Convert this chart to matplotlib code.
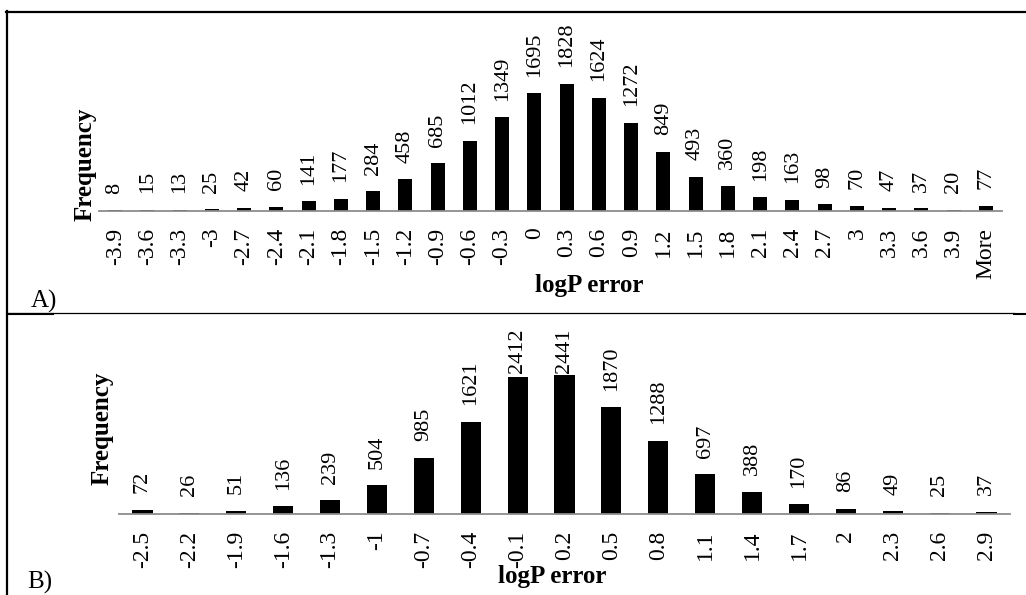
import matplotlib.pyplot as plt
from matplotlib.lines import Line2D

plt.rcParams['font.family'] = ['Liberation Serif', 'DejaVu Serif']

# panel A data
labels_a = ['-3.9', '-3.6', '-3.3', '-3', '-2.7', '-2.4', '-2.1', '-1.8', '-1.5', '-1.2',
            '-0.9', '-0.6', '-0.3', '0', '0.3', '0.6', '0.9', '1.2', '1.5', '1.8',
            '2.1', '2.4', '2.7', '3', '3.3', '3.6', '3.9', 'More']
freq_a = [8, 15, 13, 25, 42, 60, 141, 177, 284, 458, 685, 1012, 1349, 1695, 1828, 1624,
          1272, 849, 493, 360, 198, 163, 98, 70, 47, 37, 20, 77]

# panel B data
labels_b = ['-2.5', '-2.2', '-1.9', '-1.6', '-1.3', '-1', '-0.7', '-0.4', '-0.1', '0.2',
            '0.5', '0.8', '1.1', '1.4', '1.7', '2', '2.3', '2.6', '2.9']
freq_b = [72, 26, 51, 136, 239, 504, 985, 1621, 2412, 2441, 1870, 1288, 697, 388, 170,
          86, 49, 25, 37]

W, H = 1026, 595
fig = plt.figure(figsize=(W / 100, H / 100), dpi=100)


def px_rect(x0, y_top, x1, y_bot):
    # pixel box (from top-left) -> figure fraction rect
    return [x0 / W, 1 - y_bot / H, (x1 - x0) / W, (y_bot - y_top) / H]


def fx(x):
    return x / W


def fy(y):
    return 1 - y / H


def draw_panel(rect, labels, freq, ymax, width, label_cap):
    ax = fig.add_axes(rect)
    x = list(range(len(freq)))
    ax.bar(x, freq, width=width, color='black')
    for i, v in enumerate(freq):
        # labels that would leave the plot area get pushed down
        ax.annotate(str(v), xy=(i, min(v, label_cap)), xytext=(0, 12),
                    textcoords='offset points', rotation=90, ha='center',
                    va='bottom', fontsize=16)
    ax.set_xlim(-0.5, len(freq) - 0.5)
    ax.set_ylim(0, ymax)
    ax.set_xticks(x)
    ax.set_xticklabels(labels, rotation=90, fontsize=17)
    ax.tick_params(axis='x', length=0, pad=12)
    ax.set_yticks([])
    for s in ['top', 'left', 'right']:
        ax.spines[s].set_visible(False)
    ax.spines['bottom'].set_color('#8c8c8c')
    ax.spines['bottom'].set_linewidth(1.3)
    ax.patch.set_alpha(0)
    return ax


draw_panel(px_rect(99, 20, 1002, 211), labels_a, freq_a, 191 / 0.0695, 0.44, 10000)
draw_panel(px_rect(119, 315, 1010, 514), labels_b, freq_b, 199 / 0.057, 0.43, 2176)

# axis titles
fig.text(fx(85), fy(164), 'Frequency', rotation=90, ha='center', va='center',
         fontsize=18, fontweight='bold')
fig.text(fx(589), fy(285), 'logP error', ha='center', va='center',
         fontsize=18, fontweight='bold')
fig.text(fx(102), fy(428), 'Frequency', rotation=90, ha='center', va='center',
         fontsize=18, fontweight='bold')
fig.text(fx(552), fy(576), 'logP error', ha='center', va='center',
         fontsize=18, fontweight='bold')

# panel letters
fig.text(fx(31), fy(301), 'A)', ha='left', va='center', fontsize=18)
fig.text(fx(27), fy(582), 'B)', ha='left', va='center', fontsize=18)

# frame lines
fig.add_artist(Line2D([fx(6), fx(1026)], [fy(12), fy(12)], color='black', lw=1.6))
fig.add_artist(Line2D([fx(7), fx(7)], [fy(11), fy(595)], color='black', lw=1.6))
fig.add_artist(Line2D([fx(7), fx(1014)], [fy(313), fy(313)], color='black', lw=0.9))
fig.add_artist(Line2D([fx(7), fx(53)], [fy(313.5), fy(313.5)], color='black', lw=1.5))
fig.add_artist(Line2D([fx(1014), fx(1026)], [fy(314), fy(314)], color='black', lw=1.5))

fig.savefig('out.png', dpi=100)
